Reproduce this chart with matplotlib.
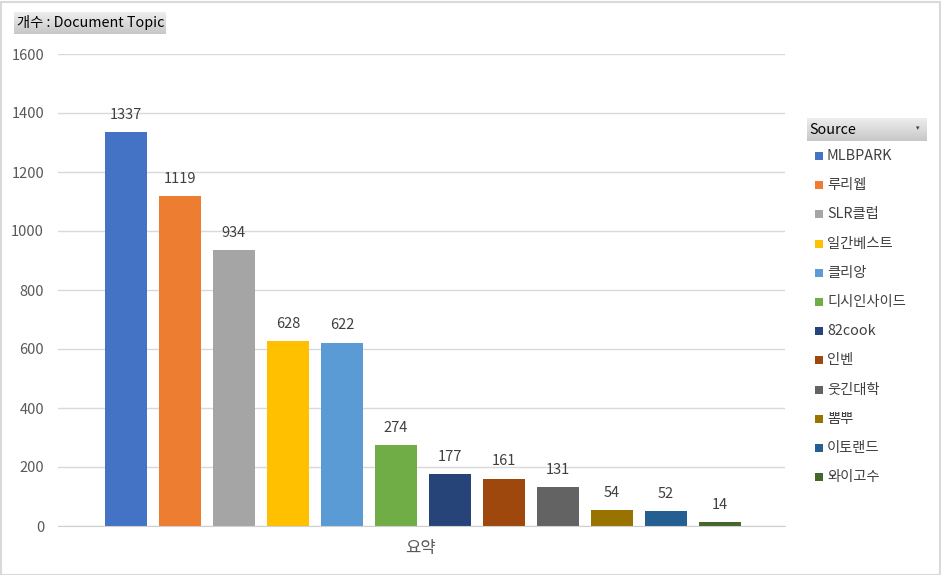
import matplotlib

matplotlib.use("Agg")
import matplotlib.pyplot as plt
import numpy as np
from matplotlib.patches import Rectangle

plt.rcParams["font.family"] = ["Noto Sans CJK KR", "DejaVu Sans"]

sources = ["MLBPARK", "루리웹", "SLR클럽", "일간베스트", "클리앙", "디시인사이드",
           "82cook", "인벤", "웃긴대학", "뽐뿌", "이토랜드", "와이고수"]
counts = [1337, 1119, 934, 628, 622, 274, 177, 161, 131, 54, 52, 14]
colors = ["#4472C4", "#ED7D31", "#A5A5A5", "#FFC000", "#5B9BD5", "#70AD47",
          "#264478", "#9E480E", "#636363", "#997300", "#255E91", "#43682B"]
yticks = [0, 200, 400, 600, 800, 1000, 1200, 1400, 1600]
category = "요약"
field_label = "개수 : Document Topic"
legend_title = "Source"

W, H = 941, 575
fig = plt.figure(figsize=(W / 100, H / 100), dpi=100)


def px(x0, y0, x1, y1):
    # pixel box (top-left origin) -> figure fraction rect
    return [x0 / W, 1 - y1 / H, (x1 - x0) / W, (y1 - y0) / H]


ax = fig.add_axes(px(58, 54, 785, 526))
xs = np.arange(len(counts))
ax.bar(xs, counts, width=0.78, color=colors, zorder=3)
for x, v in zip(xs, counts):
    ax.text(x, v + 34, f"{v}", ha="center", va="bottom", fontsize=10.5, color="#404040")

ax.set_xlim((58 - 126) / 54, (785 - 126) / 54)
ax.set_ylim(0, 1600)
ax.set_yticks(yticks)
ax.set_xticks([])
ax.tick_params(axis="y", length=0, labelsize=10.5, labelcolor="#595959", pad=10)
ax.grid(axis="y", color="#d9d9d9", lw=1, zorder=0)
for side in ["top", "right", "left"]:
    ax.spines[side].set_visible(False)
ax.spines["bottom"].set_color("#d0d0d0")
ax.spines["bottom"].set_zorder(4)
fig.text(421 / W, 1 - 549 / H, category, ha="center", va="center", fontsize=12, color="#595959")

# gray gradient header boxes
grad = np.linspace(0.93, 0.78, 50).reshape(-1, 1)
for box, label, arrow in [((14, 12, 166, 34), field_label, False),
                          ((807, 118, 927, 141), legend_title, True)]:
    bax = fig.add_axes(px(*box))
    bax.imshow(grad, cmap="gray", vmin=0, vmax=1, aspect="auto", extent=(0, 1, 0, 1))
    bax.set_axis_off()
    bax.text(0.02, 0.5, label, ha="left", va="center",
             fontsize=10.3, color="#000000", transform=bax.transAxes)
    if arrow:
        bax.text(0.92, 0.55, "▾", ha="center", va="center", fontsize=5,
                 color="#404040", transform=bax.transAxes, family="DejaVu Sans")

# legend
for i, (name, c) in enumerate(zip(sources, colors)):
    yc = 156 + i * 29.2
    fig.patches.append(Rectangle((815 / W, 1 - (yc + 4) / H), 8 / W, 8 / H,
                                 transform=fig.transFigure, facecolor=c, edgecolor="none"))
    fig.text(827 / W, 1 - yc / H, name, ha="left", va="center", fontsize=10.3, color="#404040")

# outer border
fig.patches.append(Rectangle((0.5 / W, 0.5 / H), (W - 2) / W, (H - 2) / H,
                             transform=fig.transFigure, fill=False, edgecolor="#d9d9d9", lw=1.5))

fig.savefig("out.png", dpi=100)
